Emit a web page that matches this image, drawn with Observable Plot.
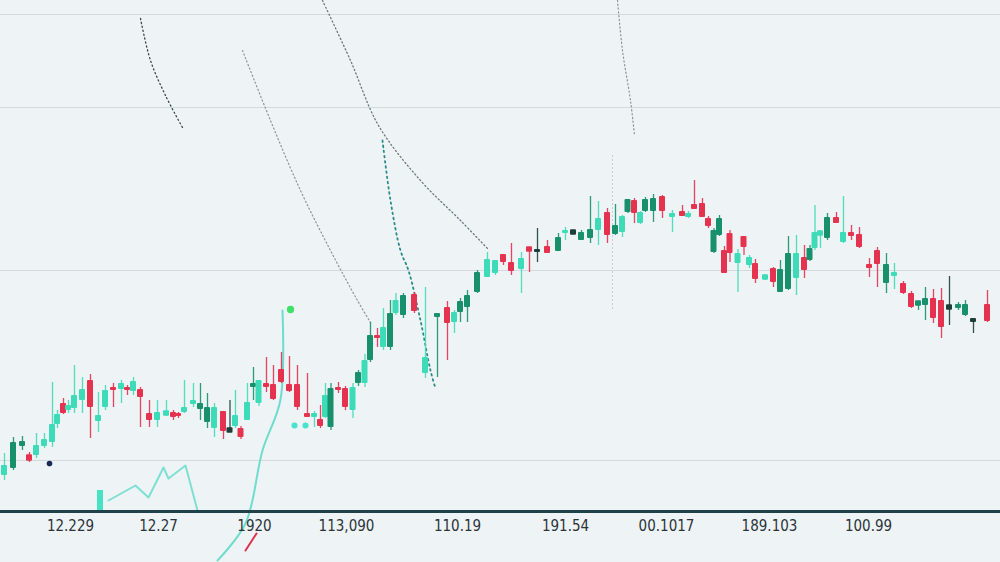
<!DOCTYPE html>
<html>
<head>
<meta charset="utf-8">
<script src="https://cdn.jsdelivr.net/npm/d3@7"></script>
<script src="https://cdn.jsdelivr.net/npm/@observablehq/plot@0.6"></script>
<style>
  html, body { margin: 0; padding: 0; background: #eef3f6; }
  #chart { width: 1000px; height: 562px; overflow: hidden; }
</style>
</head>
<body>
<div id="chart"></div>
<script>
// ---- candle data (session index, price) ----
const session = [0.8,2.6,4.4,5.8,7.2,8.8,10.4,11.4,12.6,13.6,14.8,16.4,18.0,19.6,21.0,22.6,24.2,25.4,26.6,28.0,
  29.8,31.4,33.2,34.6,35.6,36.8,38.6,40.0,41.4,42.8,44.6,45.9,47.0,48.1,49.4,50.6,51.7,53.2,54.6,56.2,
  57.8,59.4,61.4,62.8,64.0,65.0,66.1,67.6,69.0,70.5,71.6,72.9,74.0,75.4,76.6,78.0,79.1,80.6,82.8,85.0,
  87.4,89.4,90.8,92.0,93.4,95.4,97.4,99.0,100.6,102.2,104.2,105.8,107.4,109.4,111.6,113.0,114.6,116.2,118.0,119.6,
  121.4,123.0,124.4,125.5,126.8,128.0,129.0,130.6,132.4,134.4,136.4,137.6,138.8,140.4,141.6,142.7,143.8,144.8,145.9,147.5,
  148.7,149.8,151.0,153.0,154.6,156.0,157.6,159.2,160.8,161.9,162.9,164.0,165.4,167.2,168.6,170.2,171.8,173.8,175.4,177.2,
  178.8,180.6,182.2,183.6,185.0,186.6,188.2,189.8,191.6,193.0,194.6,197.4];
const kind = ["T","G","G","R","T","T","T","T","R","T","T","T","R","T","T","R","T","R","T","R",
  "R","T","T","R","R","T","T","G","G","T","R","D","T","R","T","G","T","R","R","R",
  "R","R","R","T","R","T","G","R","R","T","G","T","G","R","T","G","T","G","R","T",
  "G","R","T","G","G","G","T","T","R","R","T","R","D","R","G","T","D","G","G","T",
  "R","G","T","G","R","T","G","G","R","T","R","T","R","R","R","G","G","R","R","T",
  "R","T","R","T","R","G","G","T","R","G","T","T","G","R","T","R","R","R","R","G",
  "T","R","R","G","G","R","R","D","G","G","D","R"];
const open = [7.2,8.6,13.0,11.0,11.2,13.0,13.8,17.4,21.6,20.2,20.6,22.2,26.2,18.0,20.8,24.8,24.4,24.8,24.0,24.4,
  19.6,18.2,19.4,19.8,19.6,19.8,21.4,20.4,17.8,16.6,20.0,16.0,17.0,16.6,18.2,24.8,21.6,25.6,25.4,28.4,
  25.4,25.4,19.6,18.8,18.4,18.8,16.8,24.8,24.6,20.2,25.6,25.6,30.2,35.2,32.8,32.8,39.6,39.2,43.4,27.6,
  38.8,40.8,37.8,39.8,40.8,43.8,46.8,47.6,51.4,49.8,48.4,52.6,51.8,53.0,52.0,55.6,55.6,54.2,54.6,56.2,
  59.8,55.4,55.8,59.8,62.2,57.6,60.0,60.0,63.0,58.8,60.0,58.8,61.4,61.6,58.6,51.8,55.2,52.2,55.6,49.6,
  55.0,49.2,49.6,46.6,48.6,43.8,44.4,46.6,50.8,50.2,52.6,55.4,54.6,58.8,53.8,55.8,55.4,49.4,52.2,45.6,
  47.0,45.6,43.6,41.4,41.2,42.6,42.2,40.6,40.6,39.2,37.8,41.4];
const close = [9.2,13.8,14.0,10.4,13.2,14.4,17.4,19.4,19.6,21.2,23.2,24.4,20.8,19.2,24.2,24.2,25.6,24.2,26.0,22.8,
  18.2,19.8,19.8,18.8,19.0,20.8,22.2,21.6,20.8,20.8,16.0,16.4,19.2,14.8,21.8,25.6,26.2,24.8,22.4,25.8,
  24.0,20.8,18.8,19.6,17.0,23.2,24.6,24.2,20.8,24.8,27.8,30.2,35.2,34.6,36.8,39.6,42.2,43.2,40.0,30.8,
  39.6,37.6,39.8,42.0,43.2,47.8,50.4,50.2,49.8,48.0,50.6,52.2,52.4,51.6,54.8,56.2,56.0,55.8,56.4,58.6,
  55.2,57.2,59.0,62.4,59.6,59.8,62.4,62.6,60.0,59.6,59.0,59.6,60.4,58.8,57.0,56.2,58.6,47.6,51.6,51.6,
  52.8,50.8,46.4,47.0,45.8,48.4,51.6,51.6,48.2,52.6,55.8,55.8,58.8,57.6,55.8,55.0,52.8,48.6,49.4,49.4,
  47.8,43.6,40.8,41.8,42.6,38.6,36.8,41.0,41.4,41.4,38.6,38.0];
const high = [11.6,14.8,15.0,11.8,15.6,15.6,25.8,20.2,22.6,22.2,29.2,26.8,27.4,23.8,25.2,25.6,26.2,25.2,26.8,24.8,
  22.2,22.2,22.2,20.2,19.8,26.2,25.6,25.6,23.6,21.6,20.0,22.2,24.2,17.0,25.6,28.8,26.2,30.8,29.2,31.8,
  31.0,29.2,27.6,20.0,21.2,25.6,25.6,25.8,25.0,25.6,28.2,31.4,37.8,36.6,40.6,42.2,43.6,43.6,43.8,44.8,
  39.6,42.0,40.2,42.6,44.2,48.2,51.8,50.2,51.4,53.6,51.8,52.6,56.6,54.2,55.6,56.8,56.2,56.2,63.0,62.0,
  60.6,61.4,59.2,62.4,62.6,60.0,62.8,63.4,63.2,60.2,61.2,60.0,66.2,62.6,59.0,56.6,59.2,53.0,56.2,52.4,
  55.0,51.2,50.4,47.4,48.8,50.2,55.0,55.2,53.2,53.2,61.2,56.2,59.6,59.8,63.0,57.2,56.8,50.6,52.8,51.6,
  49.6,46.0,44.0,41.8,44.8,44.4,44.6,47.0,41.8,42.2,38.6,44.2];
const low = [6.2,8.2,12.2,9.8,10.6,12.6,12.8,16.6,19.4,19.6,19.6,19.6,14.6,15.8,20.2,20.8,21.6,23.2,23.2,16.8,
  16.8,16.8,19.0,18.2,18.6,19.6,20.8,18.2,16.6,14.8,14.4,15.8,16.6,14.4,18.2,22.2,21.0,23.8,22.2,25.6,
  23.8,20.2,18.8,16.8,16.6,18.6,16.2,23.6,20.2,18.6,25.0,24.8,29.8,32.8,32.2,32.2,39.2,38.6,39.6,26.6,
  26.8,30.2,35.6,37.8,37.8,43.6,46.8,47.2,49.2,47.2,43.6,47.8,49.8,51.6,52.0,54.2,55.4,54.2,53.6,53.2,
  53.6,55.2,54.8,59.6,57.6,57.4,59.8,57.8,58.6,55.8,59.0,58.6,60.4,58.8,56.6,51.6,55.0,47.6,49.8,43.8,
  51.2,48.6,45.6,46.2,44.8,43.8,44.2,43.2,46.6,50.0,52.2,52.6,54.2,57.6,53.6,54.2,52.6,46.8,44.8,43.6,
  44.4,43.4,40.6,40.2,38.2,37.6,34.6,37.2,40.2,39.0,35.6,37.8];

// ---- axis labels ----
const tickSession = [14, 31.6, 50.8, 69.2, 91.4, 113, 133.2, 153.8, 173.6];
const tickLabels = ["12.229", "12.27", "1920", "113,090", "110.19", "191.54", "00.1017", "189.103", "100.99"];
const gridPrices = [10.2, 48.2, 80.8, 99.4];

// ---- overlay traces (session, price) ----
const traceA = [[28,98.6],[30,90.2],[33,83.2],[36.4,76.8]];
const traceB = [[48.4,92.2],[54,78.2],[60,64.2],[66,52.2],[71.4,42.2],[74,37.8]];
const traceC = [[64.4,102.2],[70,90.2],[75.6,77.2],[84,66.2],[92,58.2],[97.4,52.6]];
const traceD = [[76.4,74.2],[78,62.2],[80,52.2],[81.6,48.2],[84,38.2],[86,28.2],[87,24.6]];
const traceE = [[123.4,102.2],[124.4,92.2],[126,82.2],[126.8,75.2]];
const traceF = [[122.4,71.2],[122.4,40.2]];
const lowerLine = [[21.6,2.2],[27,5.2],[29.6,2.8],[32.6,8.8],[33.6,6.6],[37,9.2],[39.4,0.2]];
const riseLine = [[43.4,-9.8],[49,-2.4],[52.4,12.2],[56,22.4],[56.4,40.2]];
const redStroke = [[49,-7.8],[51.2,-4.4]];
const ghostOpen = [0.2], ghostClose = [4.2], ghostSession = [20];
const dots = [
  {s: 58, p: 40.4, c: "#3ee06a", r: 5},
  {s: 9.8, p: 9.6, c: "#1b2a55", r: 3},
  {s: 58.8, p: 17.2, c: "#48e3cf", r: 3.5},
  {s: 61, p: 17.2, c: "#48e3cf", r: 3.5}
];

const kinds = ["R", "G", "T", "D"];
const palette = ["#e5324f", "#17906b", "#3ddbb8", "#1d3e3a"];

const candles = session.map((s, i) => ({
  s, kind: kind[i], open: open[i], close: close[i], high: high[i], low: low[i]
}));
const bodyLo = d => Math.min(d.open, d.close) - (Math.abs(d.open - d.close) < 0.6 ? 0.35 : 0);
const bodyHi = d => Math.max(d.open, d.close) + (Math.abs(d.open - d.close) < 0.6 ? 0.35 : 0);
const half = 0.6;
const labelOf = new Map(tickSession.map((v, i) => [v, tickLabels[i]]));
const px = d => d[0], py = d => d[1];

const chart = Plot.plot({
  width: 1000,
  height: 562,
  marginTop: 0,
  marginRight: 0,
  marginLeft: 0,
  marginBottom: 51,
  x: {domain: [0, 200], axis: null},
  y: {domain: [0, 102.2], axis: null},
  color: {domain: kinds, range: palette},
  style: {background: "#eef3f6", color: "#2b3439", fontFamily: "'Liberation Sans Narrow','DejaVu Sans Condensed','Roboto',sans-serif", overflow: "visible"},
  marks: [
    Plot.ruleY(gridPrices, {stroke: "#d3dadf", strokeWidth: 1}),
    Plot.line(traceA, {x: px, y: py, curve: "catmull-rom", stroke: "#3b4650", strokeWidth: 1.3, strokeDasharray: "1.2 2.8"}),
    Plot.line(traceB, {x: px, y: py, curve: "catmull-rom", stroke: "#8a949b", strokeWidth: 1.2, strokeDasharray: "1.2 2.6"}),
    Plot.line(traceC, {x: px, y: py, curve: "catmull-rom", stroke: "#6c7780", strokeWidth: 1.3, strokeDasharray: "1.2 2.6"}),
    Plot.line(traceD, {x: px, y: py, curve: "catmull-rom", stroke: "#2a8c88", strokeWidth: 1.8, strokeDasharray: "1.6 3.6"}),
    Plot.line(traceE, {x: px, y: py, curve: "catmull-rom", stroke: "#8a949b", strokeWidth: 1.2, strokeDasharray: "1.2 2.6"}),
    Plot.line(traceF, {x: px, y: py, stroke: "#c2cacf", strokeWidth: 1, strokeDasharray: "1 3"}),
    Plot.line(lowerLine, {x: px, y: py, stroke: "#7fdfd2", strokeWidth: 2}),
    Plot.line(riseLine, {x: px, y: py, curve: "catmull-rom", stroke: "#6fdccd", strokeWidth: 2}),
    Plot.line(redStroke, {x: px, y: py, stroke: "#e0304c", strokeWidth: 2}),
    Plot.rect(ghostSession, {x1: (d) => d - 0.6, x2: (d) => d + 0.6, y1: (d, i) => ghostOpen[i], y2: (d, i) => ghostClose[i], fill: "#45e3c3"}),
    Plot.ruleX(candles, {x: "s", y1: "low", y2: "high", stroke: "kind", strokeOpacity: 0.9, strokeWidth: 1.3}),
    Plot.rect(candles, {x1: d => d.s - half, x2: d => d.s + half, y1: bodyLo, y2: bodyHi, fill: "kind", rx: 1}),
    Plot.dot(dots, {x: "s", y: "p", r: "r", fill: "c"}),
    Plot.ruleY([0], {stroke: "#20404a", strokeWidth: 3}),
    Plot.axisX(tickSession, {anchor: "bottom", label: null, tickSize: 0, tickPadding: 9, fontSize: 15, tickFormat: d => labelOf.get(d), fill: "#2b3439"})
  ]
});
document.getElementById("chart").appendChild(chart);
</script>
</body>
</html>
